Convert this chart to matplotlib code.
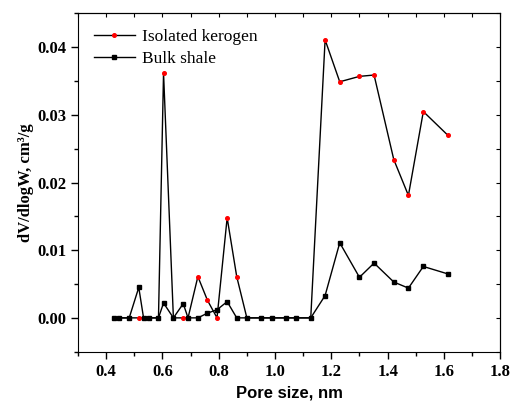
import numpy as np
import matplotlib
matplotlib.use('Agg')
import matplotlib.pyplot as plt
from matplotlib.ticker import MultipleLocator

# pore width grid (nm)
pore_size = [0.428, 0.447, 0.482, 0.516, 0.533, 0.552, 0.586, 0.604, 0.639, 0.674,
             0.691, 0.726, 0.760, 0.794, 0.830, 0.864, 0.900, 0.952, 0.988, 1.040,
             1.074, 1.127, 1.178, 1.230, 1.300, 1.352, 1.422, 1.474, 1.527, 1.614]

kerogen = [0, 0, 0, 0, 0, 0, 0, 0.0362, 0, 0,
           0, 0.0061, 0.0026, 0, 0.0148, 0.0061, 0, 0, 0, 0,
           0, 0, 0.0411, 0.0349, 0.0357, 0.0359, 0.0234, 0.0181, 0.0305, 0.0270]

shale = [0, 0, 0, 0.0045, 0, 0, 0, 0.0022, 0, 0.0021,
         0, 0, 0.0007, 0.0012, 0.0024, 0, 0, 0, 0, 0,
         0, 0, 0.0033, 0.0111, 0.0060, 0.0081, 0.0053, 0.0044, 0.0076, 0.0065]

serif = ['Liberation Serif', 'DejaVu Serif']

fig = plt.figure(figsize=(5.13, 4.08), dpi=100)
ax = fig.add_axes([0.152, 0.138, 0.823, 0.829])

ax.plot(pore_size, kerogen, color='black', lw=1, marker='o', ms=2.6,
        mfc='red', mec='red', label='Isolated kerogen')
ax.plot(pore_size, shale, color='black', lw=1, marker='s', ms=2.2,
        mfc='black', mec='black', label='Bulk shale')

ax.set_xlim(0.3, 1.8)
ax.set_ylim(-0.005, 0.045)
ax.xaxis.set_major_locator(MultipleLocator(0.2))
ax.xaxis.set_minor_locator(MultipleLocator(0.1))
ax.yaxis.set_major_locator(MultipleLocator(0.01))
ax.yaxis.set_minor_locator(MultipleLocator(0.005))
ax.xaxis.set_major_formatter(plt.FormatStrFormatter('%.1f'))
ax.yaxis.set_major_formatter(plt.FormatStrFormatter('%.2f'))

ax.tick_params(which='major', direction='out', length=5, width=1)
ax.tick_params(which='minor', direction='out', length=3, width=1)
for lab in ax.get_xticklabels() + ax.get_yticklabels():
    lab.set_family(serif)
    lab.set_fontweight('bold')
    lab.set_fontsize(12)

# inward ticks on top and right like the original
top = ax.secondary_xaxis('top')
top.xaxis.set_major_locator(MultipleLocator(0.1))
top.tick_params(direction='in', length=3, labeltop=False)
right = ax.secondary_yaxis('right')
right.yaxis.set_major_locator(MultipleLocator(0.005))
right.tick_params(direction='in', length=3, labelright=False)

ax.set_xlabel('Pore size, nm', family=['Liberation Sans', 'DejaVu Sans'],
              fontweight='bold', fontsize=12)
ax.set_ylabel('dV/dlogW, cm\u00b3/g', family=serif, fontweight='bold', fontsize=12)
ax.yaxis.set_label_coords(-0.104, 0.5)

leg = ax.legend(loc='upper left', frameon=False, handlelength=2.4,
                numpoints=1, handletextpad=0.4,
                prop={'family': serif, 'size': 12.5}, borderaxespad=0.5,
                labelspacing=0.3)

fig.savefig('out.png', dpi=100)
